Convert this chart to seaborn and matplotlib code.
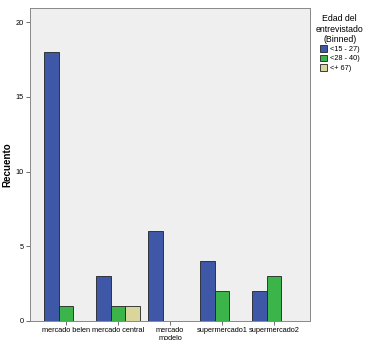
import pandas as pd
import matplotlib
matplotlib.use('Agg')
import matplotlib.pyplot as plt
import seaborn as sns

# Data
mercados = ['mercado belen', 'mercado central', 'mercado\nmodelo', 'supermercado1', 'supermercado2']
edades = ['<15 - 27)', '<28 - 40)', '<+ 67)']
cuenta_15_27 = [18, 3, 6, 4, 2]
cuenta_28_40 = [1, 1, 0, 2, 3]
cuenta_67 = [0, 1, 0, 0, 0]

rows = []
for serie, vals in zip(edades, [cuenta_15_27, cuenta_28_40, cuenta_67]):
    for m, v in zip(mercados, vals):
        if v > 0:
            rows.append({'mercado': m, 'edad': serie, 'Recuento': v})
df = pd.DataFrame(rows)

colores = ['#3E57A6', '#3BB54A', '#D9D59C']

plt.rcParams['font.family'] = ['Liberation Sans', 'DejaVu Sans']

fig = plt.figure(figsize=(3.67, 3.5), dpi=100)
ax = fig.add_axes([0.082, 0.083, 0.763, 0.894])
ax.set_facecolor('#EFEFEF')

sns.barplot(data=df, x='mercado', y='Recuento', hue='edad', order=mercados,
            hue_order=edades, palette=colores, saturation=1, width=0.84, gap=0,
            edgecolor='#222222', linewidth=0.6, ax=ax)

ax.set_xlim(-0.69, 4.69)
ax.set_ylim(0, 20.94)
ax.set_yticks([0, 5, 10, 15, 20])
ax.set_xlabel('')
ax.set_ylabel('Recuento', fontsize=7, fontweight='bold')
ax.yaxis.set_label_coords(-0.062, 0.5)
ax.tick_params(axis='both', labelsize=5.3, length=3, color='#555555', width=0.6, pad=1.5)
for s in ax.spines.values():
    s.set_color('#888888')
    s.set_linewidth(0.7)

leg = ax.legend(title='Edad del\nentrevistado\n(Binned)', loc='upper left',
                bbox_to_anchor=(1.01, 0.99), frameon=False, fontsize=5.3,
                title_fontsize=6.3, handlelength=1.0, handleheight=1.0,
                handletextpad=0.3, labelspacing=0.2, borderaxespad=0)
leg.get_title().set_multialignment('center')

plt.savefig('out.png', dpi=100)
